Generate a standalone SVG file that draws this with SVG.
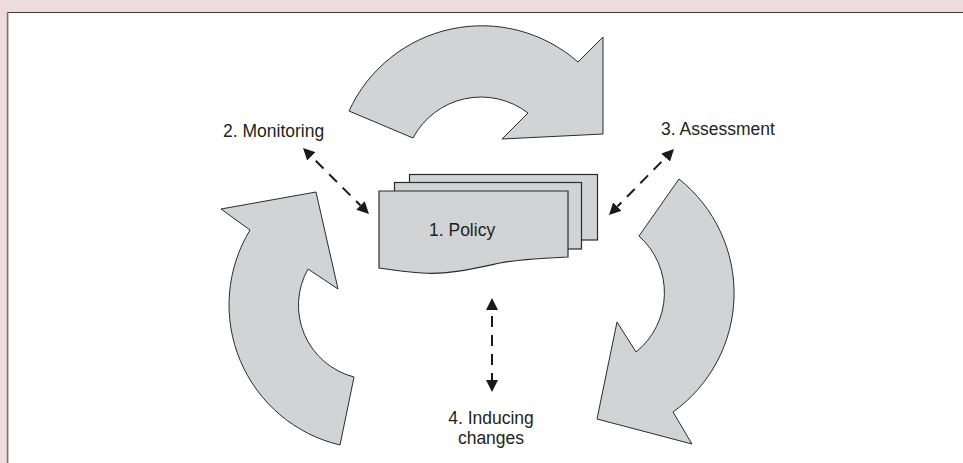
<svg xmlns="http://www.w3.org/2000/svg" width="963" height="463" viewBox="0 0 963 463">
<style>
  .lbl { font-family: "Liberation Sans", Arial, sans-serif; font-size: 17.5px; fill: #231f20; }
  .cyc { fill: #d2d3d5; stroke: #2b2b2b; stroke-width: 1; stroke-linejoin: miter; }
  .sheet { fill: #d2d3d5; stroke: #2b2b2b; stroke-width: 1.2; }
  .dash { fill: none; stroke: #1a1a1a; stroke-width: 2; stroke-dasharray: 11 8; stroke-dashoffset: 13; marker-start: url(#ah); marker-end: url(#ah); }
</style>
<defs>
  <marker id="ah" viewBox="0 0 12 12" refX="0" refY="6" markerWidth="12" markerHeight="12" markerUnits="userSpaceOnUse" orient="auto-start-reverse">
    <path d="M0,0 L12,6 L0,12 Z" fill="#1a1a1a"/>
  </marker>
</defs>
<rect x="0" y="0" width="963" height="463" fill="#eedbdf"/>
<rect x="8" y="12.5" width="960" height="460" fill="#ffffff"/>
<line x1="7" y1="12.5" x2="963" y2="12.5" stroke="#3a3a3a" stroke-width="1.2"/>
<line x1="7.6" y1="12" x2="7.6" y2="463" stroke="#7a7176" stroke-width="1.6"/>

<g id="cycle-top">
  <path class="cyc" d="M349,111 A146,146 0 0 1 578,62 L603,37 L603,134 L502,139 L528,113 A77,77 0 0 0 413,138 Z"/>
</g>
<g id="cycle-right">
  <path class="cyc" d="M679,179 A146,146 0 0 1 673,412 L692,444 L597,419 L617,322 L636,352 A76,76 0 0 0 639,236 Z"/>
</g>
<g id="cycle-left">
  <path class="cyc" d="M340,445 A144,144 0 0 1 250,230 L221,209 L316,192 L338,289 L308,269 A74,74 0 0 0 354,377 Z"/>
</g>

<g id="policy">
  <rect class="sheet" x="409.5" y="174.5" width="188" height="65.5"/>
  <rect class="sheet" x="394.5" y="182.5" width="187" height="66.5"/>
  <path class="sheet" d="M379,191 L568,191 L568,257 C545,258 522,259 500,263 C472,269 447,275 422,273 C405,272 392,270 379,268 Z"/>
  <text class="lbl" x="429" y="236">1. Policy</text>
</g>

<g id="monitoring">
  <text class="lbl" x="223" y="137">2. Monitoring</text>
</g>
<g id="assessment">
  <text class="lbl" x="661" y="135">3. Assessment</text>
</g>
<g id="inducing">
  <text class="lbl" x="491" y="424" text-anchor="middle">4. Inducing</text>
  <text class="lbl" x="491" y="444" text-anchor="middle">changes</text>
</g>

<g id="connectors">
  <line class="dash" x1="311.5" y1="156.5" x2="360.5" y2="205.5"/>
  <line class="dash" x1="665.6" y1="157.6" x2="617.4" y2="206.5"/>
  <line class="dash" x1="492" y1="310" x2="492" y2="380"/>
</g>
</svg>
